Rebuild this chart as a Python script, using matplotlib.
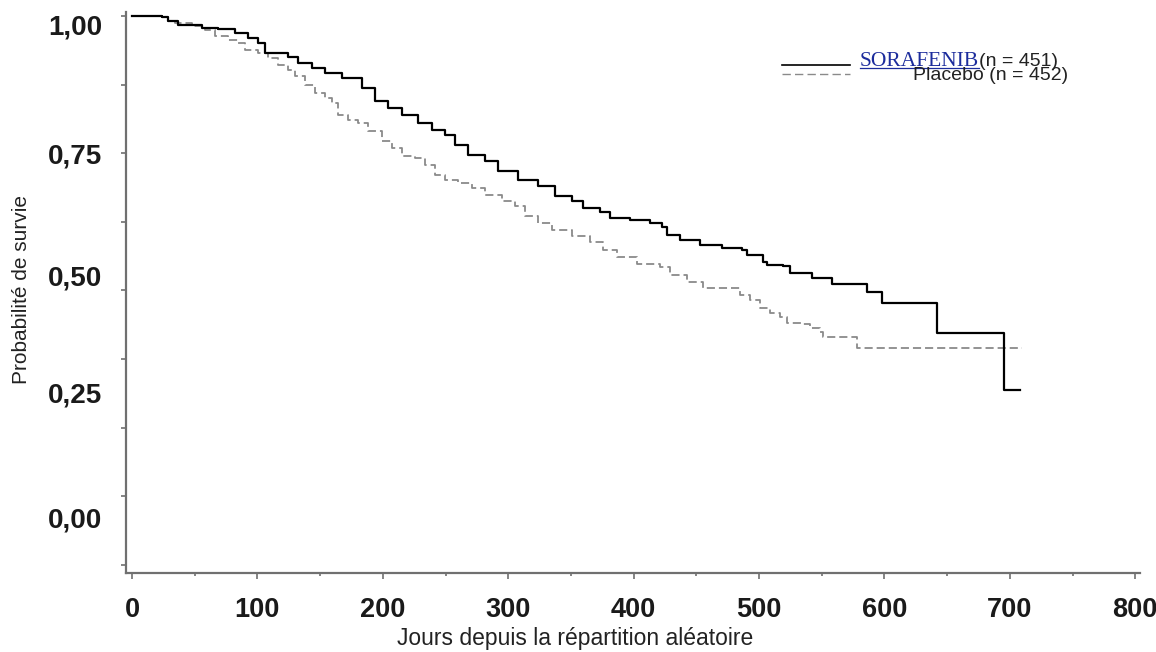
import matplotlib
matplotlib.use("Agg")
import matplotlib.pyplot as plt
from matplotlib.lines import Line2D
import numpy as np

# ---- data ----
sora_days = [0, 23.7, 28.7, 36.7, 55.6, 68.6, 82.1, 92.5, 100.5, 106, 124.4, 132.4, 143.5,
             153.9, 167.5, 183.4, 193.8, 204.1, 215.3, 228.1, 239.2, 249.6, 257.6, 268,
             281.5, 291.9, 307.8, 323.8, 337.3, 350.9, 359.6, 373.2, 381.2, 397.1, 413.1,
             422.6, 426.6, 437, 453, 470.5, 486.4, 490.4, 503.2, 506.4, 519.1, 524.7,
             542.3, 558.2, 586.1, 598.1, 642, 695.4, 708]
sora_surv = [1.0, 0.998, 0.991, 0.984, 0.978, 0.977, 0.969, 0.960, 0.951, 0.933, 0.925, 0.914,
             0.905, 0.896, 0.887, 0.869, 0.845, 0.833, 0.820, 0.805, 0.792, 0.783, 0.765,
             0.747, 0.736, 0.718, 0.701, 0.690, 0.672, 0.663, 0.650, 0.643, 0.632, 0.628,
             0.623, 0.615, 0.601, 0.592, 0.583, 0.578, 0.574, 0.565, 0.552, 0.546, 0.545,
             0.532, 0.523, 0.512, 0.497, 0.477, 0.423, 0.319, 0.319]

plac_days = [0, 23.7, 28.7, 34.3, 47.8, 58.2, 66.2, 76.6, 84.5, 90.1, 100.5, 108.5, 116.4,
             124.4, 130, 138, 145.9, 153.9, 159.5, 164.3, 172.2, 180.2, 188.2, 199.4, 207.3,
             215.3, 225.7, 233.7, 241.6, 249.6, 260, 271.1, 281.5, 295.1, 305.4, 313.4,
             323.8, 334.9, 350.9, 365.2, 375.6, 386.8, 402.7, 421.1, 429, 442.6, 455.3,
             484.8, 492.8, 500.8, 508.8, 516.7, 522.3, 535.1, 540.7, 548.6, 551, 578.2, 709.7]
plac_surv = [1.0, 0.998, 0.991, 0.987, 0.982, 0.975, 0.964, 0.956, 0.951, 0.938, 0.933, 0.923,
             0.911, 0.902, 0.891, 0.874, 0.860, 0.851, 0.842, 0.820, 0.811, 0.805, 0.791,
             0.772, 0.760, 0.745, 0.741, 0.729, 0.710, 0.701, 0.696, 0.687, 0.674, 0.663,
             0.654, 0.636, 0.623, 0.610, 0.599, 0.588, 0.574, 0.561, 0.549, 0.542, 0.528,
             0.515, 0.505, 0.492, 0.483, 0.468, 0.459, 0.452, 0.441, 0.439, 0.432, 0.424,
             0.415, 0.395, 0.395]

x_ticks = [0, 100, 200, 300, 400, 500, 600, 700, 800]
x_ticklabels = ["0", "100", "200", "300", "400", "500", "600", "700", "800"]
y_ticklabels = ["1,00", "0,75", "0,50", "0,25", "0,00"]
y_label_pos = [0.984, 0.749, 0.528, 0.315, 0.087]   # where the labels sit in the reference
y_tick_marks = np.arange(0, 1.0001, 0.125)

sora_name = "SORAFENIB"
sora_n = "(n = 451)"
plac_label = "Placebo (n = 452)"
xlabel = "Jours depuis la répartition aléatoire"
ylabel = "Probabilité de survie"

# ---- figure ----
W, H = 1156, 652
fig = plt.figure(figsize=(W / 100, H / 100), dpi=100)
fig.patch.set_facecolor("white")
ax = fig.add_axes([126 / W, (H - 573) / H, 1014 / W, 561 / H])

ax.plot(sora_days, sora_surv, drawstyle="steps-post", color="black", lw=1.6, zorder=3)
ax.plot(plac_days, plac_surv, drawstyle="steps-post", color="#8a8a8a", lw=1.3,
        linestyle=(0, (4.5, 2.2)), zorder=2)

ax.set_xlim(-4.8, 803.8)
ax.set_ylim(-0.0146, 1.0073)

for s in ["top", "right"]:
    ax.spines[s].set_visible(False)
for s in ["left", "bottom"]:
    ax.spines[s].set_color("#707070")
    ax.spines[s].set_linewidth(1.6)

# x ticks
ax.set_xticks(x_ticks)
ax.set_xticklabels(x_ticklabels)
ax.set_xticks(np.arange(50, 800, 100), minor=True)
ax.tick_params(axis="x", which="major", direction="out", length=4, width=1.2,
               color="#707070", pad=13, labelsize=19.5, labelcolor="#1a1a1a")
ax.tick_params(axis="x", which="minor", direction="out", length=2, width=1.2, color="#707070")
for t in ax.get_xticklabels():
    t.set_fontweight("bold")
    t.set_fontfamily("Liberation Sans")

# y ticks: tick marks as minor, labels as major (label positions as in reference)
ax.set_yticks(y_label_pos)
ax.set_yticklabels(y_ticklabels)
ax.set_yticks(y_tick_marks, minor=True)
ax.tick_params(axis="y", which="major", length=0, pad=17, labelsize=20, labelcolor="#1a1a1a")
ax.tick_params(axis="y", which="minor", direction="out", length=3.5, width=1.2, color="#707070")
for t in ax.get_yticklabels():
    t.set_fontweight("bold")
    t.set_fontfamily("Liberation Sans")

# axis labels
fig.text(575 / W, 1 - 639 / H, xlabel, ha="center", va="center", fontsize=16.5,
         family="Liberation Sans", color="#222222")
fig.text(22 / W, 1 - 290 / H, ylabel, ha="center", va="center", rotation=90, fontsize=15,
         family="Liberation Sans", color="#222222")

# legend (drawn by hand as in the reference)
fig.add_artist(Line2D([782 / W, 850 / W], [1 - 65 / H, 1 - 65 / H], color="black", lw=1.2))
fig.add_artist(Line2D([782 / W, 850 / W], [1 - 74 / H, 1 - 74 / H], color="#8a8a8a", lw=1.0,
                      linestyle=(0, (6, 3))))
blue = "#1c2c9c"
t_sora = fig.text(860 / W, 1 - 66 / H, sora_name, ha="left", va="baseline", fontsize=15.5,
                  family="Liberation Serif", color=blue)
fig.canvas.draw()
bb = t_sora.get_window_extent()
fig.text(bb.x1 / W, 1 - 66 / H, sora_n, ha="left", va="baseline", fontsize=14,
         family="Liberation Sans", color="#222222")
fig.text(1068 / W, 1 - 80 / H, plac_label, ha="right", va="baseline", fontsize=14,
         family="Liberation Sans", color="#222222")
uy = (H - 67.5) / H
fig.add_artist(Line2D([bb.x0 / W, bb.x1 / W], [uy, uy], color=blue, lw=0.9))

fig.savefig("out.png", dpi=100, facecolor="white")
